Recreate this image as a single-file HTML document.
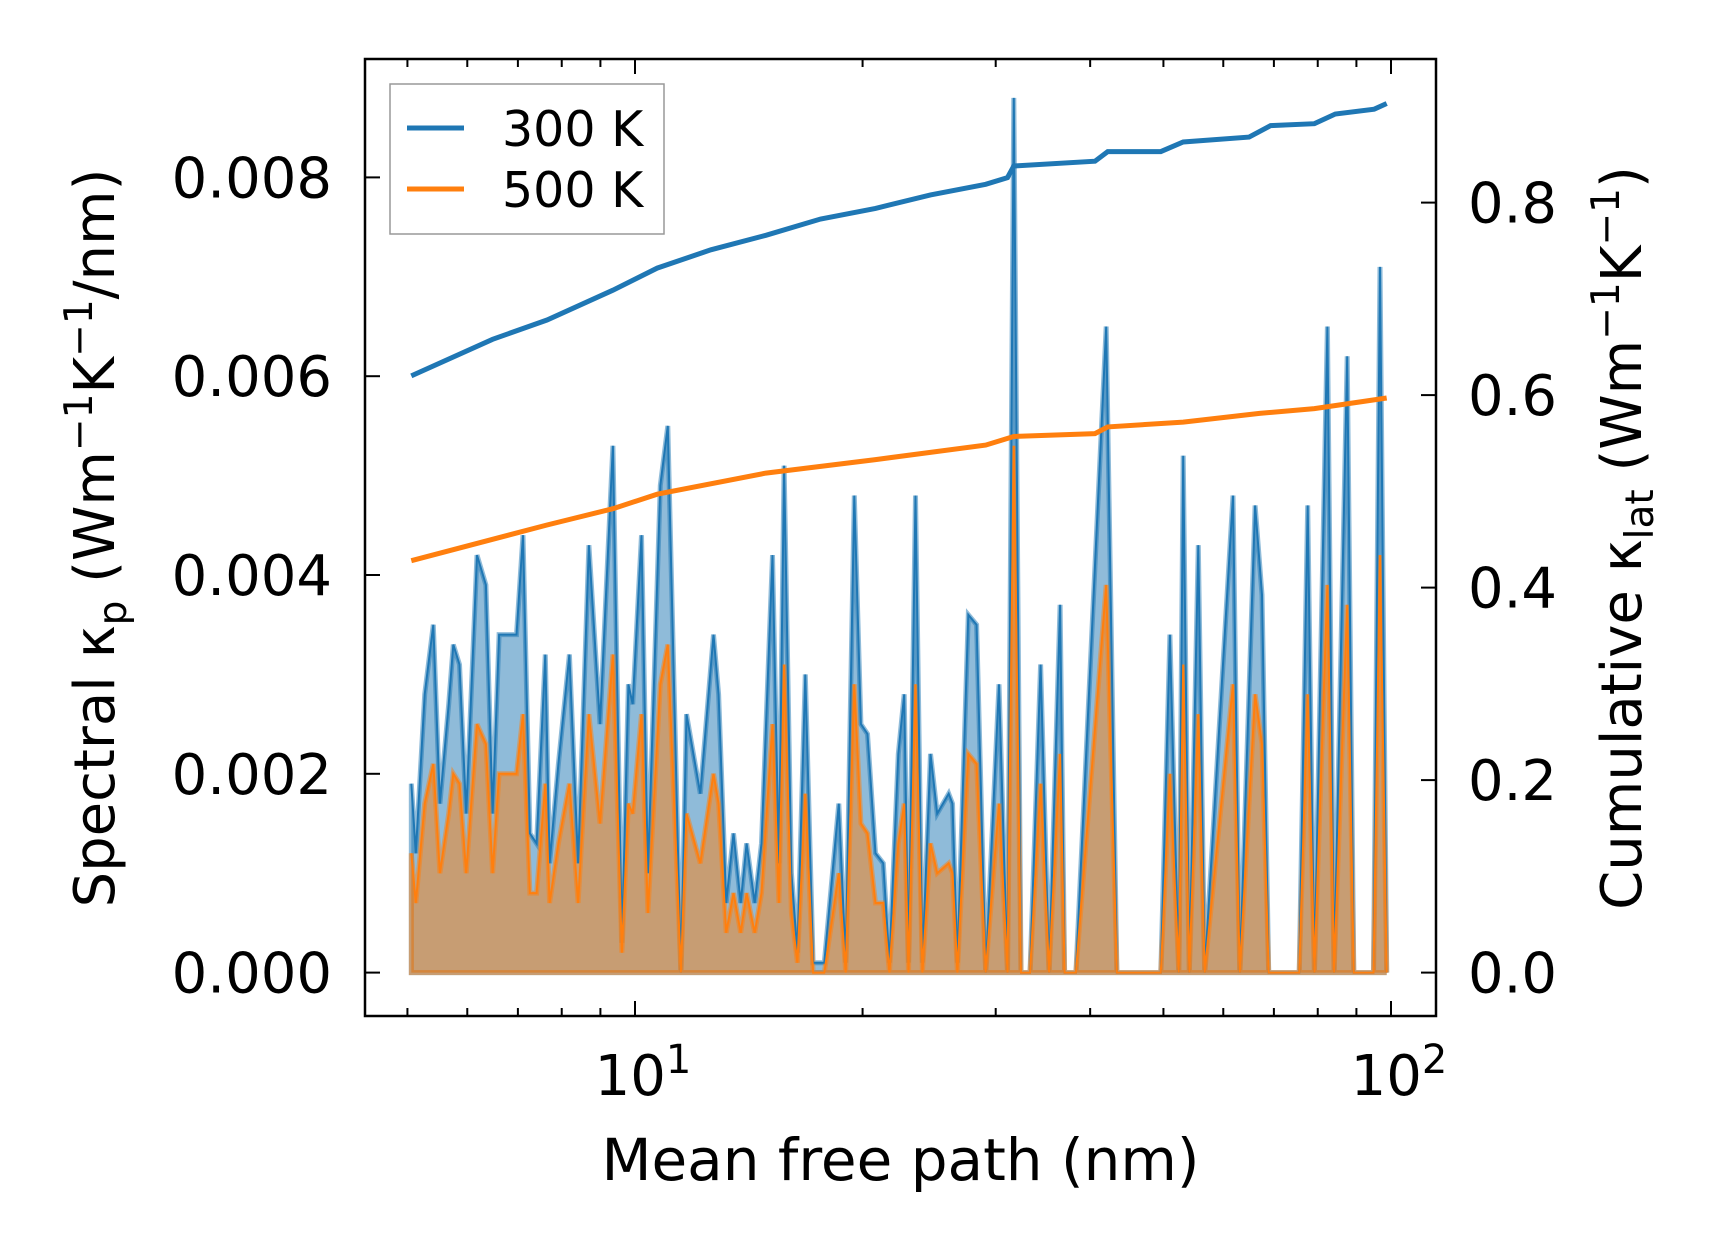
<!DOCTYPE html>
<html><head><meta charset="utf-8"><style>
html,body{margin:0;padding:0;background:#fff}
svg text{font-family:"DejaVu Sans","Liberation Sans",sans-serif;fill:#000}
</style></head><body>
<svg id="chart" width="1716" height="1254" viewBox="0 0 1716 1254" xmlns="http://www.w3.org/2000/svg">
<g id="fills"></g><g id="lines"></g><g id="axes"></g>
</svg>
<script>
const mfp = [5.06,5.13,5.27,5.41,5.52,5.67,5.75,5.86,5.98,6.18,6.35,6.48,6.61,6.79,6.97,7.11,7.26,7.41,7.61,7.71,7.92,8.19,8.41,8.69,8.99,9.35,9.61,9.80,9.93,10.2,10.4,10.8,11.05,11.5,11.7,12.2,12.7,12.9,13.2,13.5,13.8,14.05,14.4,14.7,15.2,15.5,15.75,16.1,16.4,16.8,17.2,17.8,18.6,19.0,19.5,19.9,20.3,20.8,21.3,21.7,22.3,22.7,23.0,23.5,24.0,24.6,25.1,26.0,26.3,26.7,27.6,28.3,29.1,30.3,31.1,31.7,32.4,33.3,34.4,35.3,36.5,37.0,38.3,42.0,43.4,49.6,51.0,52.4,53.1,54.1,55.6,56.7,61.8,63.1,66.1,67.5,68.9,75.6,77.6,79.2,82.4,84.1,87.5,89.3,94.8,96.7,98.7];
const spec300 = [.0019,.0012,.0028,.0035,.0017,.0027,.0033,.0031,.0016,.0042,.0039,.0016,.0034,.0034,.0034,.0044,.0014,.0013,.0032,.0011,.0021,.0032,.0011,.0043,.0025,.0053,.0003,.0029,.0027,.0044,.001,.0049,.0055,0,.0026,.0018,.0034,.0028,.0007,.0014,.0007,.0013,.0007,.0013,.0042,.0011,.0051,.001,.0002,.003,.0001,.0001,.0017,.0001,.0048,.0025,.0024,.0012,.0011,.0001,.0022,.0028,.0001,.0048,.0001,.0022,.0016,.0018,.0017,.0001,.0036,.0035,0,.0029,0,.0088,0,0,.0031,0,.0037,0,0,.0065,0,0,.0034,0,.0052,0,.0043,0,.0048,0,.0047,.0038,0,0,.0047,0,.0065,0,.0062,0,0,.0071,0];
const spec500 = [.0012,.0007,.0017,.0021,.001,.0016,.002,.0019,.001,.0025,.0023,.001,.002,.002,.002,.0026,.0008,.0008,.0019,.0007,.0013,.0019,.0007,.0026,.0015,.0032,.0002,.0017,.0016,.0026,.0006,.0029,.0033,0,.0016,.0011,.002,.0017,.0004,.0008,.0004,.0008,.0004,.0008,.0025,.0007,.0031,.0006,.0001,.0018,0,0,.001,0,.0029,.0015,.0014,.0007,.0007,0,.0013,.0017,0,.0029,0,.0013,.001,.0011,.001,0,.0022,.0021,0,.0017,0,.0053,0,0,.0019,0,.0022,0,0,.0039,0,0,.002,0,.0031,0,.0026,0,.0029,0,.0028,.0023,0,0,.0028,0,.0039,0,.0037,0,0,.0042,0];
const cumX300 = [5.06,6.48,7.65,9.35,10.7,12.6,14.9,17.6,20.8,24.6,29.1,31.1,31.7,40.6,42.2,49.6,53.1,64.9,69.3,79.2,84.4,95,98.7];
const cum300 = [.620,.658,.678,.709,.732,.751,.766,.783,.794,.808,.819,.826,.838,.843,.853,.853,.863,.868,.880,.882,.892,.897,.903];
const cumX500 = [5.06,7.65,9.35,10.7,14.9,20.8,29.1,31.7,40.6,42.2,53.1,67,79.2,98.7];
const cum500 = [.428,.465,.482,.497,.519,.533,.548,.557,.560,.567,.572,.581,.586,.597];
const leftTicks = ["0.000","0.002","0.004","0.006","0.008"];
const rightTicks = ["0.0","0.2","0.4","0.6","0.8"];
const xMajor = [10,100];

const NS="http://www.w3.org/2000/svg";
const L=365,R=1436,T=59,B=1016;
const xs=v=>635+(Math.log10(v)-1)*756;
const yl=v=>972.6-v*99400;
const yr=v=>972.6-v*962.5;
function el(tag,attrs,parent){const e=document.createElementNS(NS,tag);for(const k in attrs)e.setAttribute(k,attrs[k]);parent.appendChild(e);return e;}
const fills=document.getElementById('fills'),lines=document.getElementById('lines'),axes=document.getElementById('axes');

function areaPath(vals){let d=`M${xs(mfp[0])},${yl(0)}`;vals.forEach((v,i)=>{d+=`L${xs(mfp[i]).toFixed(1)},${yl(v).toFixed(1)}`});d+=`L${xs(mfp[mfp.length-1])},${yl(0)}Z`;return d;}
function linePath(xa,ya,f){return xa.map((x,i)=>(i?'L':'M')+xs(x).toFixed(1)+','+f(ya[i]).toFixed(1)).join('');}

const a1=el('path',{d:areaPath(spec300),fill:'#1f77b4','fill-opacity':0.5,stroke:'#1f77b4','stroke-opacity':0.5,'stroke-width':5},fills);


const a2=el('path',{d:areaPath(spec500),fill:'#ff7f0e','fill-opacity':0.5,stroke:'#ff7f0e','stroke-opacity':0.5,'stroke-width':5},fills);


const l1=el('path',{d:linePath(mfp,spec300,yl),fill:'none',stroke:'#1f77b4','stroke-width':2},lines);


const l2=el('path',{d:linePath(mfp,spec500,yl),fill:'none',stroke:'#ff7f0e','stroke-width':2},lines);


const c1=el('path',{d:linePath(cumX300,cum300,yr),fill:'none',stroke:'#1f77b4','stroke-width':5},lines);


const c2=el('path',{d:linePath(cumX500,cum500,yr),fill:'none',stroke:'#ff7f0e','stroke-width':5},lines);



const frame=el('rect',{x:L,y:T,width:R-L,height:B-T,fill:'none',stroke:'#000','stroke-width':2.5},axes);



leftTicks.forEach(t=>{const y=yl(parseFloat(t));
 el('line',{x1:L,x2:L+15,y1:y,y2:y,stroke:'#000','stroke-width':2},axes);
 const tx=el('text',{x:332,y:y+20,'text-anchor':'end','font-size':56},axes);tx.textContent=t;
 
 });
rightTicks.forEach(t=>{const y=yr(parseFloat(t));
 el('line',{x1:R-15,x2:R,y1:y,y2:y,stroke:'#000','stroke-width':2},axes);
 const tx=el('text',{x:1468,y:y+20,'font-size':56},axes);tx.textContent=t;
 
 });
for(let d=1;d<=100;d*=10)for(let m=1;m<10;m++){const v=m*d;if(v<4.4||v>114)continue;const x=xs(v),len=m===1?15:8;
 el('line',{x1:x,x2:x,y1:B,y2:B-len,stroke:'#000','stroke-width':2},axes);
 el('line',{x1:x,x2:x,y1:T,y2:T+len,stroke:'#000','stroke-width':2},axes);}
xMajor.forEach(v=>{const x=xs(v);const tx=el('text',{x:x+8,y:1095,'text-anchor':'middle','font-size':56},axes);
 tx.innerHTML='10<tspan dy="-22" font-size="40">'+Math.log10(v)+'</tspan>';
 
 });

const xt=el('text',{x:(L+R)/2,y:1180,'text-anchor':'middle','font-size':58},axes);xt.textContent='Mean free path (nm)';


const ylt=el('text',{transform:`translate(114,538) rotate(-90)`,'text-anchor':'middle','font-size':56},axes);
ylt.innerHTML='Spectral κ<tspan dy="12" font-size="39">p</tspan><tspan dy="-12"> (Wm</tspan><tspan dy="-22" font-size="39">−1</tspan><tspan dy="22">K</tspan><tspan dy="-22" font-size="39">−1</tspan><tspan dy="22">/nm)</tspan>';


const yrt=el('text',{transform:`translate(1641,538) rotate(-90)`,'text-anchor':'middle','font-size':56},axes);
yrt.innerHTML='Cumulative κ<tspan dy="12" font-size="39">lat</tspan><tspan dy="-12"> (Wm</tspan><tspan dy="-22" font-size="39">−1</tspan><tspan dy="22">K</tspan><tspan dy="-22" font-size="39">−1</tspan><tspan dy="22">)</tspan>';



const lg=el('g',{},axes);


el('rect',{x:390,y:84,width:274,height:150,fill:'#fff','fill-opacity':0.8,stroke:'#999','stroke-width':1.5},lg);
[['300 K','#1f77b4',128],['500 K','#ff7f0e',189]].forEach(([lab,c,y])=>{
 const g=el('g',{},lg);
 
 
 el('line',{x1:407,x2:464,y1:y,y2:y,stroke:c,'stroke-width':5},g);
 const t=el('text',{x:502,y:y+18,'font-size':49},g);t.textContent=lab;});
</script>
</body></html>
